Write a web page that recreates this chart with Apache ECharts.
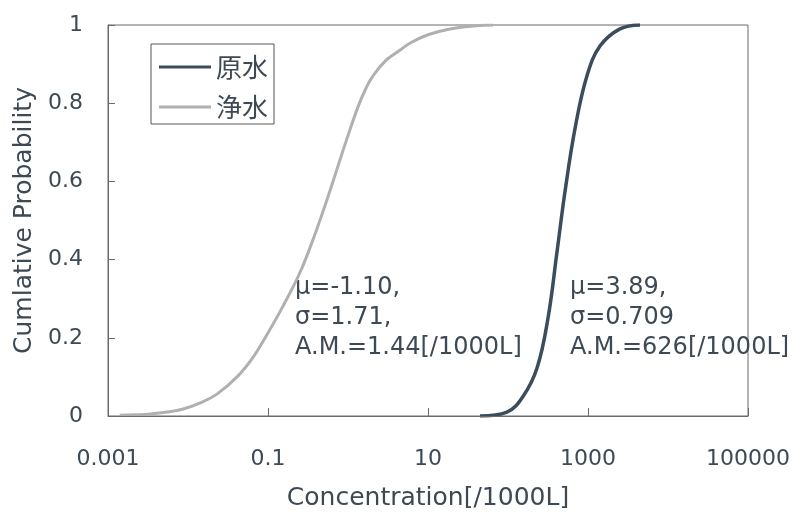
<!DOCTYPE html>
<html>
<head>
<meta charset="utf-8">
<script src="https://cdn.jsdelivr.net/npm/echarts@6/dist/echarts.min.js"></script>
<style>
  html, body { margin: 0; padding: 0; background: #fff; }
  #chart { width: 793px; height: 516px; }
</style>
</head>
<body>
<div id="chart"></div>
<script>
// 原水 (raw water) cumulative curve
const rawX = [44.7, 97, 154, 230, 316, 410, 516, 688, 971, 1413, 2512, 4467];
const rawY = [0, 0.01, 0.05, 0.122, 0.25, 0.42, 0.574, 0.735, 0.87, 0.946, 0.99, 1.0];

// 浄水 (treated water) cumulative curve
const cleanX = [0.0014, 0.0022, 0.0034, 0.0055, 0.0087, 0.014, 0.023, 0.041, 0.065, 0.097, 0.154, 0.251, 0.365, 0.546, 0.794, 0.972, 1.33, 1.65, 2.05, 3.0, 4.5, 6.0, 10, 18.8, 40, 65];
const cleanY = [0.002, 0.003, 0.005, 0.01, 0.018, 0.033, 0.056, 0.10, 0.15, 0.208, 0.281, 0.367, 0.451, 0.553, 0.655, 0.71, 0.79, 0.835, 0.87, 0.91, 0.936, 0.954, 0.975, 0.99, 0.998, 1.0];

const xTickLabels = ['0.001', '0.1', '10', '1000', '100000'];
const yTickLabels = ['0', '0.2', '0.4', '0.6', '0.8', '1'];

const cleanNote = 'μ=-1.10,\nσ=1.71,\nA.M.=1.44[/1000L]';
const rawNote = 'μ=3.89,\nσ=0.709\nA.M.=626[/1000L]';

const textColor = '#3d4954';
const lineColor = '#6a6a6a';
const font = 'DejaVu Sans, sans-serif';

const chart = echarts.init(document.getElementById('chart'));

chart.setOption({
  backgroundColor: '#fff',
  animation: false,
  grid: {
    left: 108, right: 45, top: 25, bottom: 99,
    show: true, borderColor: lineColor, borderWidth: 1, backgroundColor: 'transparent'
  },
  legend: {
    orient: 'vertical',
    left: 151, top: 44,
    padding: [9, 6, 3, 8],
    itemGap: 12,
    itemWidth: 52,
    itemHeight: 3,
    icon: 'rect',
    borderColor: '#555',
    borderWidth: 1,
    textStyle: { fontSize: 26, lineHeight: 28, color: textColor, fontFamily: 'Noto Sans CJK JP' },
    data: ['原水', '浄水']
  },
  xAxis: {
    type: 'log',
    logBase: 10,
    min: 0.001,
    max: 100000,
    interval: 2,
    z: 10,
    name: 'Concentration[/1000L]',
    nameLocation: 'middle',
    nameGap: 70,
    nameTextStyle: { fontSize: 25, color: textColor, fontFamily: font },
    axisLine: { show: true, onZero: false, lineStyle: { color: lineColor } },
    axisTick: { show: true, inside: true, length: 8, lineStyle: { color: lineColor, width: 1 } },
    minorTick: { show: false },
    splitLine: { show: false },
    axisLabel: {
      margin: 32,
      fontSize: 22,
      color: textColor,
      fontFamily: font,
      formatter: (v, i) => xTickLabels[i]
    }
  },
  yAxis: {
    type: 'value',
    min: 0,
    max: 1,
    interval: 0.2,
    z: 10,
    name: 'Cumlative Probability',
    nameLocation: 'middle',
    nameRotate: 90,
    nameGap: 67,
    nameTextStyle: { fontSize: 25, color: textColor, fontFamily: font },
    axisLine: { show: true, onZero: false, lineStyle: { color: lineColor } },
    axisTick: { show: true, inside: true, length: 7, lineStyle: { color: lineColor, width: 1 } },
    splitLine: { show: false },
    axisLabel: {
      margin: 25,
      fontSize: 22,
      color: textColor,
      fontFamily: font,
      formatter: (v, i) => yTickLabels[i]
    }
  },
  series: [
    {
      name: '原水',
      type: 'line',
      smooth: 0.4,
      symbol: 'none',
      lineStyle: { color: '#3b4d5c', width: 3.5 },
      itemStyle: { color: '#3b4d5c' },
      data: rawX.map((x, i) => [x, rawY[i]])
    },
    {
      name: '浄水',
      type: 'line',
      smooth: 0.4,
      symbol: 'none',
      lineStyle: { color: '#b0b0b0', width: 3 },
      itemStyle: { color: '#b0b0b0' },
      data: cleanX.map((x, i) => [x, cleanY[i]])
    }
  ],
  graphic: [
    {
      type: 'text', left: 295, top: 273,
      style: { text: cleanNote, fontSize: 24, lineHeight: 30, fill: textColor, fontFamily: font }
    },
    {
      type: 'text', left: 570, top: 273,
      style: { text: rawNote, fontSize: 24, lineHeight: 30, fill: textColor, fontFamily: font }
    }
  ]
});
</script>
</body>
</html>
